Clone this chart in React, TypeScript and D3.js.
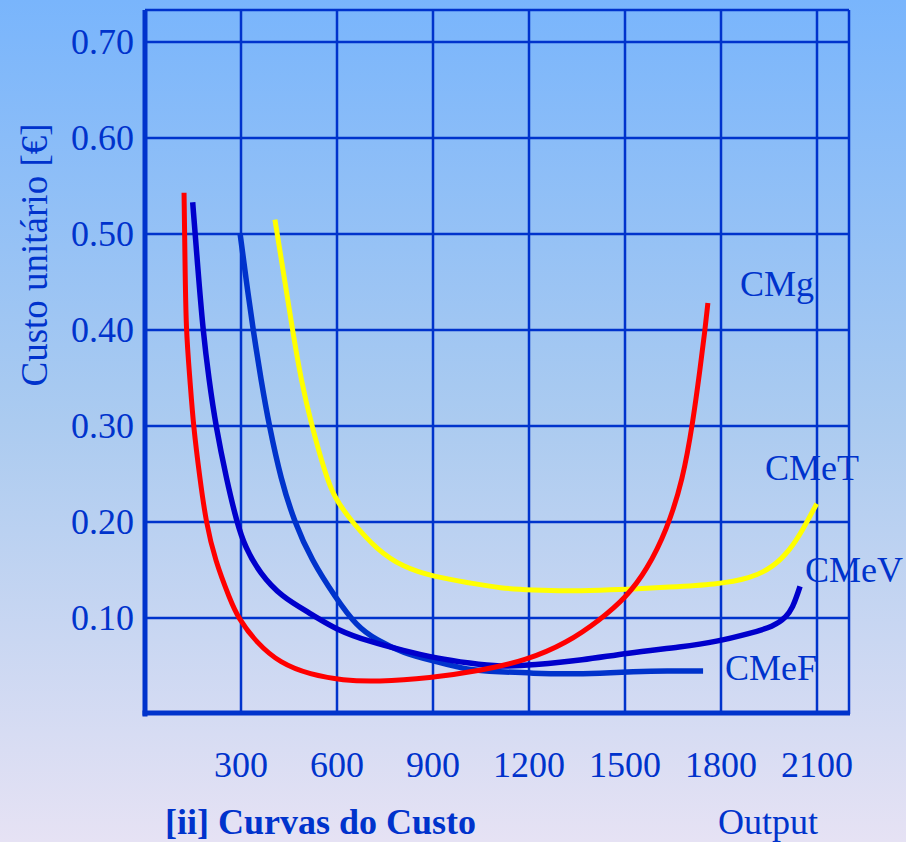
import React from "react";
import * as d3 from "d3";

const xTicks = [300, 600, 900, 1200, 1500, 1800, 2100];
const yTicks = [0.1, 0.2, 0.3, 0.4, 0.5, 0.6, 0.7];
const yTickLabels = ["0.10", "0.20", "0.30", "0.40", "0.50", "0.60", "0.70"];

const cmgX = [122, 125, 128, 140.6, 151, 172, 190.6, 219, 266, 291, 349, 422, 516, 619, 724, 891, 1047, 1193, 1318, 1422, 1505, 1568, 1630, 1681, 1713, 1734, 1750, 1759];
const cmgY = [0.543, 0.473, 0.4, 0.348, 0.3003, 0.244, 0.2, 0.16, 0.119, 0.1, 0.074, 0.053, 0.041, 0.035, 0.0336, 0.0375, 0.045, 0.056, 0.074, 0.098, 0.122, 0.15, 0.191, 0.244, 0.306, 0.358, 0.4, 0.428];

const cmevX = [149, 165, 181, 200, 221, 255, 286.6, 312.5, 359, 427, 516, 599, 703, 807, 912, 1016, 1109, 1213, 1369, 1505, 1681, 1786, 1891, 1963, 2005, 2025, 2036, 2047];
const cmevY = [0.533, 0.465, 0.4, 0.348, 0.3003, 0.244, 0.2003, 0.174, 0.1466, 0.122, 0.105, 0.0875, 0.0753, 0.066, 0.058, 0.0528, 0.049, 0.051, 0.056, 0.0635, 0.07, 0.0753, 0.084, 0.091, 0.101, 0.112, 0.122, 0.133];

const cmefX = [297, 317, 338, 362.5, 388, 425, 466.6, 521, 594, 662, 724, 806, 912, 1005, 1109, 1213, 1318, 1422, 1525, 1630, 1744];
const cmefY = [0.5007, 0.45, 0.4, 0.348, 0.3003, 0.244, 0.2003, 0.16, 0.122, 0.091, 0.077, 0.0635, 0.0545, 0.0458, 0.044, 0.0424, 0.0417, 0.0424, 0.044, 0.045, 0.0448];

const cmetX = [406, 434, 461, 487.5, 521, 562, 590, 647, 725, 806, 901, 1016, 1109, 1213, 1318, 1422, 1525, 1630, 1786, 1891, 1963, 2016, 2056, 2099];
const cmetY = [0.515, 0.457, 0.4, 0.348, 0.3003, 0.252, 0.226, 0.2, 0.171, 0.153, 0.143, 0.1365, 0.131, 0.129, 0.128, 0.129, 0.13, 0.132, 0.135, 0.141, 0.153, 0.171, 0.192, 0.219];

const seriesNames = ["CMg", "CMeV", "CMeF", "CMeT"];

const W = 906;
const H = 842;
const xMax = 2200;
const yMax = 0.7333;

export default function App() {
  const x = d3.scaleLinear().domain([0, xMax]).range([145, 849]);
  const y = d3.scaleLinear().domain([0, yMax]).range([714, 10]);
  const line = d3
    .line<[number, number]>()
    .x((d) => x(d[0]))
    .y((d) => y(d[1]))
    .curve(d3.curveBasis);
  const zip = (a: number[], b: number[]) => a.map((v, i) => [v, b[i]] as [number, number]);

  const series = [
    { name: seriesNames[0], pts: zip(cmgX, cmgY), color: "#ff0000", w: 5 },
    { name: seriesNames[1], pts: zip(cmevX, cmevY), color: "#0000cc", w: 5.5 },
    { name: seriesNames[2], pts: zip(cmefX, cmefY), color: "#0033cc", w: 5.5 },
    { name: seriesNames[3], pts: zip(cmetX, cmetY), color: "#ffff00", w: 5 },
  ];
  const drawOrder = [3, 2, 1, 0];

  const labelPos = [
    { name: "CMg", x: 740, y: 296 },
    { name: "CMeT", x: 765, y: 480 },
    { name: "CMeV", x: 805, y: 582 },
    { name: "CMeF", x: 725, y: 680 },
  ];

  const gridColor = "#0033cc";
  const font = "'Liberation Serif', 'Times New Roman', serif";

  return (
    <svg
      width={W}
      height={H}
      style={{ position: "absolute", left: 0, top: 0, display: "block" }}
      fontFamily={font}
    >
      <defs>
        <linearGradient id="bg" x1="0" y1="0" x2="0" y2="1">
          <stop offset="0" stopColor="#79b5fc" />
          <stop offset="0.5" stopColor="#abcbf0" />
          <stop offset="1" stopColor="#e6e2f4" />
        </linearGradient>
      </defs>
      <rect x={0} y={0} width={W} height={H} fill="url(#bg)" />

      {[...xTicks, xMax].map((t) => (
        <line key={"vx" + t} x1={x(t)} x2={x(t)} y1={y(yMax)} y2={y(0)} stroke={gridColor} strokeWidth={2.5} />
      ))}
      {[...yTicks, yMax].map((t) => (
        <line key={"hy" + t} x1={x(0)} x2={x(xMax)} y1={y(t)} y2={y(t)} stroke={gridColor} strokeWidth={2.5} />
      ))}

      {drawOrder.map((i) => {
        const s = series[i];
        return (
          <path key={s.name} d={line(s.pts) || ""} fill="none" stroke={s.color} strokeWidth={s.w} strokeLinecap="butt" strokeLinejoin="round" />
        );
      })}

      <line x1={x(0)} x2={x(0)} y1={y(yMax)} y2={y(0) + 2.5} stroke={gridColor} strokeWidth={5} />
      <line x1={x(0) - 2.5} x2={x(xMax) + 1} y1={y(0) - 1} y2={y(0) - 1} stroke={gridColor} strokeWidth={5} />

      {yTicks.map((t, i) => (
        <text key={"yl" + t} x={134} y={y(t) + 12} textAnchor="end" fontSize={36} fill={gridColor}>
          {yTickLabels[i]}
        </text>
      ))}
      {xTicks.map((t) => (
        <text key={"xl" + t} x={x(t)} y={777} textAnchor="middle" fontSize={36} fill={gridColor}>
          {t}
        </text>
      ))}

      {labelPos.map((l) => (
        <text key={l.name} x={l.x} y={l.y} fontSize={36} fill={gridColor}>
          {l.name}
        </text>
      ))}

      <text transform="translate(47,255) rotate(-90)" textAnchor="middle" fontSize={37} fill={gridColor}>
        Custo unitário [€]
      </text>
      <text x={165} y={834} fontSize={36} fontWeight="bold" fill={gridColor}>
        [ii] Curvas do Custo
      </text>
      <text x={718} y={834} fontSize={36} fill={gridColor}>
        Output
      </text>
    </svg>
  );
}
